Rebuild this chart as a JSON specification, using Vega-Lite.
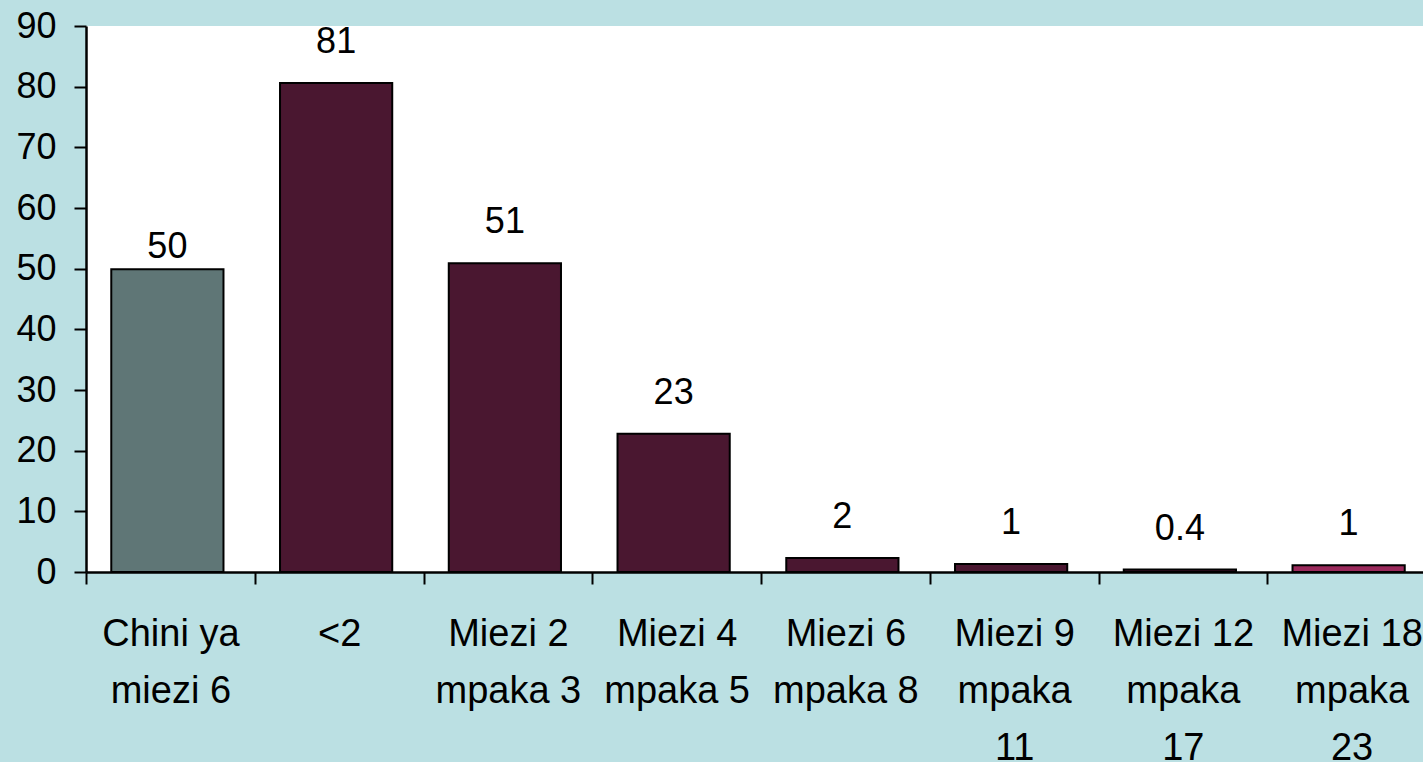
{
  "$schema": "https://vega.github.io/schema/vega-lite/v6.json",
  "width": 1337,
  "height": 546,
  "autosize": {"type": "none"},
  "padding": {"left": 86, "top": 26, "right": 0, "bottom": 190},
  "background": "#BBE0E3",
  "view": {"fill": "white", "stroke": null},
  "config": {"font": "Liberation Sans"},
  "data": {
    "values": [
      {"umri": "Chini ya miezi 6", "asilimia": 49.9, "lebo": "50"},
      {"umri": "<2", "asilimia": 80.6, "lebo": "81"},
      {"umri": "Miezi 2 mpaka 3", "asilimia": 50.9, "lebo": "51"},
      {"umri": "Miezi 4 mpaka 5", "asilimia": 22.8, "lebo": "23"},
      {"umri": "Miezi 6 mpaka 8", "asilimia": 2.3, "lebo": "2"},
      {"umri": "Miezi 9 mpaka 11", "asilimia": 1.3, "lebo": "1"},
      {"umri": "Miezi 12 mpaka 17", "asilimia": 0.4, "lebo": "0.4"},
      {"umri": "Miezi 18 mpaka 23", "asilimia": 1.1, "lebo": "1"}
    ]
  },
  "encoding": {
    "x": {
      "field": "umri",
      "type": "nominal",
      "sort": null,
      "scale": {"range": [0, 1350], "paddingInner": 0, "paddingOuter": 0},
      "axis": {
        "title": null,
        "labelAngle": 0,
        "labelFontSize": 38,
        "labelColor": "black",
        "labelPadding": 31,
        "labelLineHeight": 57,
        "labelBaseline": "top",
        "labelLimit": 0,
        "labelOverlap": false,
        "tickBand": "extent",
        "tickColor": "black",
        "tickWidth": 2,
        "tickSize": 12,
        "domainColor": "black",
        "domainWidth": 2.5,
        "labelExpr": "{'Chini ya miezi 6': ['Chini ya', 'miezi 6'], '<2': ['<2'], 'Miezi 2 mpaka 3': ['Miezi 2', 'mpaka 3'], 'Miezi 4 mpaka 5': ['Miezi 4', 'mpaka 5'], 'Miezi 6 mpaka 8': ['Miezi 6', 'mpaka 8'], 'Miezi 9 mpaka 11': ['Miezi 9', 'mpaka', '11'], 'Miezi 12 mpaka 17': ['Miezi 12', 'mpaka', '17'], 'Miezi 18 mpaka 23': ['Miezi 18', 'mpaka', '23']}[datum.value]"
      }
    },
    "y": {
      "field": "asilimia",
      "type": "quantitative",
      "scale": {"domain": [0, 90], "nice": false},
      "axis": {
        "title": null,
        "values": [0, 10, 20, 30, 40, 50, 60, 70, 80, 90],
        "grid": false,
        "labelFontSize": 36,
        "labelColor": "black",
        "labelPadding": 18,
        "tickColor": "black",
        "tickWidth": 2,
        "tickSize": 12,
        "domainColor": "black",
        "domainWidth": 2.5
      }
    }
  },
  "layer": [
    {
      "mark": {"type": "bar", "width": {"band": 0.665}, "xOffset": -3, "stroke": "black", "strokeWidth": 2},
      "encoding": {
        "color": {
          "condition": [
            {"test": "datum.umri === 'Chini ya miezi 6'", "value": "#5F7676"},
            {"test": "datum.umri === 'Miezi 18 mpaka 23'", "value": "#9B2A5C"}
          ],
          "value": "#4A1730"
        }
      }
    },
    {
      "transform": [{"filter": "datum.umri === 'Chini ya miezi 6'"}],
      "mark": {"type": "text", "fontSize": 36, "color": "black", "baseline": "alphabetic", "dy": -11, "dx": -3},
      "encoding": {"text": {"field": "lebo"}}
    },
    {
      "transform": [{"filter": "datum.umri !== 'Chini ya miezi 6'"}],
      "mark": {"type": "text", "fontSize": 36, "color": "black", "baseline": "alphabetic", "dy": -30, "dx": -3},
      "encoding": {"text": {"field": "lebo"}}
    }
  ]
}
